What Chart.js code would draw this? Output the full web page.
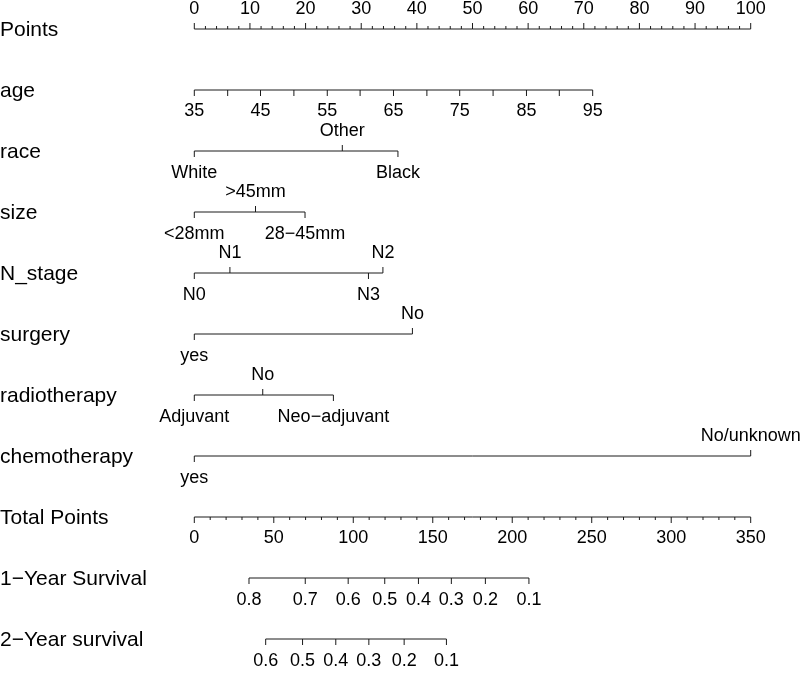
<!DOCTYPE html>
<html>
<head>
<meta charset="utf-8">
<script src="https://cdn.jsdelivr.net/npm/chart.js@4/dist/chart.umd.min.js"></script>
<style>
  body { margin: 0; background: #fff; }
</style>
</head>
<body>
<canvas id="nomo" width="800" height="673"></canvas>
<script>
// row labels, top to bottom
const rowLabels = ['Points', 'age', 'race', 'size', 'N_stage', 'surgery', 'radiotherapy',
  'chemotherapy', 'Total Points', '1\u2212Year Survival', '2\u2212Year survival'];

// Points scale
const pointTicks = [0, 10, 20, 30, 40, 50, 60, 70, 80, 90, 100];

// age (continuous) - tick value and its points
const ageValues = [35, 40, 45, 50, 55, 60, 65, 70, 75, 80, 85, 90, 95];
const agePoints = [0, 6.0, 11.9, 17.9, 23.9, 29.8, 35.8, 41.8, 47.7, 53.7, 59.7, 65.6, 71.6];
const ageLabels = [35, 45, 55, 65, 75, 85, 95];

// categorical predictors (ordered by points)
const raceLevels = ['White', 'Other', 'Black'];
const racePoints = [0, 26.6, 36.6];
const sizeLevels = ['<28mm', '>45mm', '28\u221245mm'];
const sizePoints = [0, 11.0, 19.9];
const nLevels = ['N0', 'N1', 'N3', 'N2'];
const nPoints = [0, 6.4, 31.3, 33.9];
const surgeryLevels = ['yes', 'No'];
const surgeryPoints = [0, 39.2];
const radioLevels = ['Adjuvant', 'No', 'Neo\u2212adjuvant'];
const radioPoints = [0, 12.3, 25.0];
const chemoLevels = ['yes', 'No/unknown'];
const chemoPoints = [0, 100];

// Total points scale
const totalTicks = [0, 50, 100, 150, 200, 250, 300, 350];

// survival probabilities and the total points where they sit
const surv1Labels = ['0.8', '0.7', '0.6', '0.5', '0.4', '0.3', '0.2', '0.1'];
const surv1Total = [34.4, 69.8, 96.8, 119.8, 141.0, 161.7, 183.1, 210.5];
const surv2Labels = ['0.6', '0.5', '0.4', '0.3', '0.2', '0.1'];
const surv2Total = [44.9, 68.1, 89.0, 109.8, 132.0, 158.6];

const lineColor = '#1a1a1a';
const tickFont = '18px "Liberation Sans", Arial, sans-serif';
const labelFont = '21px "Liberation Sans", Arial, sans-serif';

const categorical = [
  { row: 2, levels: raceLevels, pts: racePoints },
  { row: 3, levels: sizeLevels, pts: sizePoints },
  { row: 4, levels: nLevels, pts: nPoints },
  { row: 5, levels: surgeryLevels, pts: surgeryPoints },
  { row: 6, levels: radioLevels, pts: radioPoints },
  { row: 7, levels: chemoLevels, pts: chemoPoints }
];

function rowLine(row, vals, axis) {
  return {
    data: [{ x: Math.min(...vals), y: row }, { x: Math.max(...vals), y: row }],
    xAxisID: axis,
    showLine: true,
    pointRadius: 0,
    borderWidth: 1,
    borderColor: lineColor,
    clip: false
  };
}

const datasets = [
  rowLine(0, pointTicks, 'x'),
  rowLine(1, agePoints, 'x'),
  ...categorical.map(c => rowLine(c.row, c.pts, 'x')),
  rowLine(8, totalTicks, 'xt'),
  rowLine(9, surv1Total, 'xt'),
  rowLine(10, surv2Total, 'xt')
];

const nomoPlugin = {
  id: 'nomo',
  afterDatasetsDraw(chart) {
    const ctx = chart.ctx;
    const x = chart.scales.x, xt = chart.scales.xt, y = chart.scales.y;
    ctx.save();
    ctx.strokeStyle = lineColor;
    ctx.fillStyle = '#000';
    ctx.lineWidth = 1;

    function tick(px, py, len) {
      ctx.beginPath();
      ctx.moveTo(px, py);
      ctx.lineTo(px, py + len);
      ctx.stroke();
    }
    function text(str, px, py) {
      ctx.textAlign = 'center';
      ctx.textBaseline = 'middle';
      ctx.fillText(str, px, py);
    }
    ctx.font = tickFont;

    // Points axis: ticks up, labels above
    let py = y.getPixelForValue(0);
    for (let v = 0; v <= 100; v += 2) {
      tick(x.getPixelForValue(v), py, v % 10 === 0 ? -6 : -3);
    }
    pointTicks.forEach(v => text(String(v), x.getPixelForValue(v), py - 20));

    // age: ticks down, labels below
    py = y.getPixelForValue(1);
    agePoints.forEach(p => tick(x.getPixelForValue(p), py, 6));
    ageLabels.forEach(a => text(String(a), x.getPixelForValue(agePoints[ageValues.indexOf(a)]), py + 21));

    // categorical: alternate below / above
    categorical.forEach(c => {
      const ry = y.getPixelForValue(c.row);
      c.levels.forEach((lv, i) => {
        const px = x.getPixelForValue(c.pts[i]);
        if (i % 2 === 0) {
          tick(px, ry, 6);
          text(lv, px, ry + 22);
        } else {
          tick(px, ry, -6);
          text(lv, px, ry - 20);
        }
      });
    });

    // Total points: ticks down, labels below
    py = y.getPixelForValue(8);
    for (let v = 0; v <= 350; v += 10) {
      tick(xt.getPixelForValue(v), py, v % 50 === 0 ? 6 : 3);
    }
    totalTicks.forEach(v => text(String(v), xt.getPixelForValue(v), py + 21));

    // survival axes
    [[9, surv1Labels, surv1Total], [10, surv2Labels, surv2Total]].forEach(([row, labs, tot]) => {
      const ry = y.getPixelForValue(row);
      tot.forEach((t, i) => {
        const px = xt.getPixelForValue(t);
        tick(px, ry, 6);
        text(labs[i], px, ry + 22);
      });
    });

    // row labels
    ctx.font = labelFont;
    ctx.textAlign = 'left';
    ctx.textBaseline = 'middle';
    rowLabels.forEach((lab, i) => ctx.fillText(lab, 0, y.getPixelForValue(i) + 1));
    ctx.restore();
  }
};

new Chart(document.getElementById('nomo'), {
  type: 'scatter',
  data: { datasets: datasets },
  options: {
    responsive: false,
    animation: false,
    layout: { padding: { left: 194.3, right: 49.3, top: 29, bottom: 34 } },
    plugins: { legend: { display: false }, tooltip: { enabled: false } },
    scales: {
      x: { type: 'linear', min: 0, max: 100, display: false },
      xt: { type: 'linear', axis: 'x', min: 0, max: 350, display: false },
      y: { type: 'linear', min: 0, max: 10, reverse: true, display: false }
    }
  },
  plugins: [nomoPlugin]
});
</script>
</body>
</html>
